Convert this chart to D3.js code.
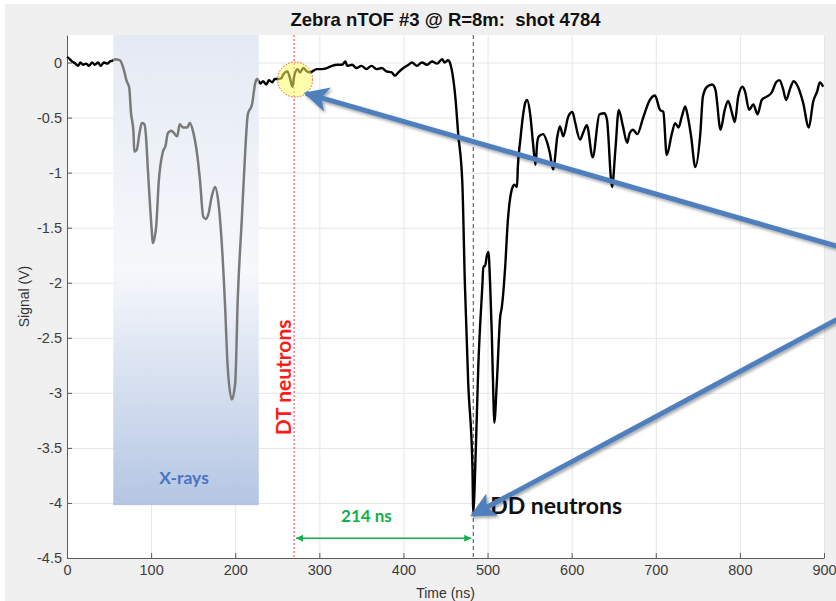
<!DOCTYPE html>
<html>
<head>
<meta charset="utf-8">
<script src="https://cdn.jsdelivr.net/npm/d3@7"></script>
<style>
  html, body { margin: 0; padding: 0; background: #fff; }
  svg { display: block; }
</style>
</head>
<body>
<div id="chart"></div>
<script>
// --- DATA ---
const timeNs = [
  0, 2, 6, 10, 13, 16, 19, 23, 26, 30, 33, 37, 40, 44, 48, 51, 55, 57, 63, 67, 71, 74, 76, 79, 80,
  83, 86, 89, 92, 94, 96, 101, 102, 106, 109, 114, 117, 120, 124, 126, 131, 134, 138, 143, 146, 150,
  155, 158, 162, 165, 168, 172, 176, 180, 184, 188, 191, 196, 200, 203, 208, 212, 215, 220, 224, 226,
  230, 233, 237, 240, 244, 247, 251, 255, 257, 262, 265, 268, 270, 274, 277, 281, 285, 289,
  297, 303, 309, 315, 321, 327, 331, 333, 339, 344, 350, 356, 362, 368, 374, 380, 386, 390, 394,
  400, 406, 410, 416, 422, 428, 434, 440, 446, 449, 453, 456,
  462, 465, 470, 473, 477, 482, 483, 486, 489, 494, 495, 497, 499, 501, 503, 505, 507, 508,
  511, 515, 517, 521, 524, 529, 532, 535, 536, 539, 542, 545, 547, 551, 554, 557, 559, 561,
  566, 571, 574, 578, 583, 586, 590, 596, 601, 604, 610, 614, 618, 625, 633, 639, 642, 648,
  652, 656, 661, 666, 669, 673, 678, 685, 693, 699, 705, 709, 713, 719, 723, 727, 731, 735,
  737, 742, 747, 753, 756, 761, 767, 771, 777, 782, 786, 791, 794, 798, 803, 806, 811, 816,
  821, 826, 832, 838, 843, 847, 851, 855, 860, 864, 869, 875, 882, 887, 892, 895, 899
];
const signalV = [
  0.05, 0.04, 0.01, -0.01, -0.03, 0.00, -0.02, -0.01, -0.03, 0.00, -0.02, 0.00, -0.03, 0.00, -0.01, 0.01, 0.02, 0.03, 0.02, -0.05, -0.17, -0.23, -0.45, -0.63, -0.81,
  -0.79, -0.65, -0.55, -0.56, -0.68, -0.95, -1.55, -1.64, -1.49, -1.09, -0.81, -0.76, -0.64, -0.62, -0.63, -0.67, -0.56, -0.59, -0.59, -0.55, -0.63,
  -0.85, -1.06, -1.40, -1.42, -1.38, -1.22, -1.13, -1.27, -1.64, -2.22, -2.76, -3.06, -2.91, -2.15, -1.40, -0.79, -0.47, -0.38, -0.18, -0.15,
  -0.19, -0.17, -0.20, -0.16, -0.18, -0.15, -0.15, -0.14, -0.11, -0.08, -0.14, -0.22, -0.13, -0.06, -0.09, -0.05, -0.08, -0.09,
  -0.06, -0.06, -0.05, -0.03, -0.02, -0.02, 0.01, -0.03, -0.02, -0.05, -0.03, -0.06, -0.03, -0.06, -0.05, -0.08, -0.09, -0.12, -0.09,
  -0.05, -0.02, 0.00, -0.03, 0.00, -0.02, 0.01, -0.01, 0.03, 0.00, 0.02, -0.02,
  -0.34, -0.64, -1.09, -2.00, -2.91, -3.67, -4.08, -3.52, -2.76, -2.00, -1.85, -1.85, -1.76, -1.72, -2.00, -2.45, -3.06, -3.27,
  -2.91, -2.31, -2.22, -1.85, -1.45, -1.15, -1.11, -1.13, -0.95, -0.70, -0.49, -0.36, -0.34, -0.49, -0.73, -0.93, -0.73, -0.67,
  -0.65, -0.73, -0.82, -0.97, -0.67, -0.58, -0.67, -0.49, -0.45, -0.54, -0.70, -0.63, -0.57, -0.86, -0.47, -0.46, -0.52, -1.13,
  -0.79, -0.43, -0.58, -0.73, -0.64, -0.61, -0.65, -0.50, -0.34, -0.30, -0.43, -0.45, -0.84, -0.65, -0.55, -0.59, -0.49, -0.40,
  -0.45, -0.67, -0.95, -0.64, -0.31, -0.22, -0.20, -0.25, -0.61, -0.43, -0.35, -0.47, -0.54, -0.31, -0.22, -0.26, -0.43, -0.38,
  -0.47, -0.34, -0.31, -0.27, -0.18, -0.16, -0.23, -0.34, -0.23, -0.17, -0.22, -0.36, -0.59, -0.36, -0.26, -0.18, -0.22
];

const xTicks = [0, 100, 200, 300, 400, 500, 600, 700, 800, 900];
const yTicks = [0, -0.5, -1, -1.5, -2, -2.5, -3, -3.5, -4, -4.5];

// annotations (data units)
const xrayBand = [55, 228, -4.02];      // start ns, end ns, bottom V
const dtTime = 270;
const ddTime = 483;
const gapLabel = "214 ns";
const gapLevel = -4.32;
const circleAt = [270, -0.155];
const arrowOrigin = [1021, -1.90];
const arrowTips = [[284, -0.28], [482, -4.11]];

// --- LAYOUT ---
const WIDTH = 836, HEIGHT = 601;
const PLOT = { left: 67, right: 824, top: 35, bottom: 558 };
const FONT = "'Liberation Sans', Arial, Helvetica, sans-serif";
const CALIBRI = "Lato, 'Open Sans', sans-serif";

const data = timeNs.map((t, i) => ({ t, v: signalV[i] }));

const x = d3.scaleLinear().domain([0, 900]).range([PLOT.left, PLOT.right]);
const y = d3.scaleLinear().domain([-4.5, 0.25]).range([PLOT.bottom, PLOT.top]);

const svg = d3.select("#chart").append("svg")
  .attr("width", WIDTH).attr("height", HEIGHT)
  .style("font-family", FONT);

const defs = svg.append("defs");

const grad = defs.append("linearGradient").attr("id", "xrayGrad")
  .attr("x1", 0).attr("y1", 0).attr("x2", 0).attr("y2", 1);
grad.append("stop").attr("offset", "0%").attr("stop-color", "#e2e8f3");
grad.append("stop").attr("offset", "50%").attr("stop-color", "#f5f7fb");
grad.append("stop").attr("offset", "100%").attr("stop-color", "#aec1e1");

// line is grey inside the X-ray band, black elsewhere
defs.append("clipPath").attr("id", "clipIn").append("rect")
  .attr("x", x(xrayBand[0])).attr("y", 0)
  .attr("width", x(xrayBand[1]) - x(xrayBand[0])).attr("height", HEIGHT);
const clipOut = defs.append("clipPath").attr("id", "clipOut");
clipOut.append("rect").attr("x", 0).attr("y", 0).attr("width", x(xrayBand[0])).attr("height", HEIGHT);
clipOut.append("rect").attr("x", x(xrayBand[1])).attr("y", 0)
  .attr("width", WIDTH - x(xrayBand[1])).attr("height", HEIGHT);

const shadow = defs.append("filter").attr("id", "shadow")
  .attr("x", "-20%").attr("y", "-20%").attr("width", "140%").attr("height", "140%");
shadow.append("feDropShadow").attr("dx", 1.5).attr("dy", 2).attr("stdDeviation", 1.5)
  .attr("flood-color", "#000").attr("flood-opacity", 0.35);

defs.append("marker").attr("id", "blueHead")
  .attr("viewBox", "0 0 10 10").attr("refX", 9).attr("refY", 5)
  .attr("markerWidth", 5).attr("markerHeight", 5)
  .attr("markerUnits", "strokeWidth").attr("orient", "auto")
  .append("path").attr("d", "M0,0 L10,5 L0,10 L2.5,5 Z").attr("fill", "#4f80bd");

defs.append("marker").attr("id", "greenHead")
  .attr("viewBox", "0 0 10 10").attr("refX", 10).attr("refY", 5)
  .attr("markerWidth", 9).attr("markerHeight", 7)
  .attr("markerUnits", "userSpaceOnUse").attr("orient", "auto-start-reverse")
  .append("path").attr("d", "M0,0 L10,5 L0,10 Z").attr("fill", "#10b04a");

// figure background
svg.append("rect").attr("x", 5).attr("y", 4).attr("width", WIDTH - 5).attr("height", HEIGHT - 4)
  .attr("fill", "#f0f0f0");
svg.append("rect").attr("x", PLOT.left).attr("y", PLOT.top)
  .attr("width", PLOT.right - PLOT.left).attr("height", PLOT.bottom - PLOT.top)
  .attr("fill", "#fff");

// grid
const grid = svg.append("g").attr("stroke", "#e6e6e6").attr("stroke-width", 1);
grid.selectAll(".gx").data(xTicks.slice(1)).join("line")
  .attr("x1", d => x(d) + 0.5).attr("x2", d => x(d) + 0.5)
  .attr("y1", PLOT.top).attr("y2", PLOT.bottom);
grid.selectAll(".gy").data(yTicks.slice(0, -1)).join("line")
  .attr("y1", d => y(d) + 0.5).attr("y2", d => y(d) + 0.5)
  .attr("x1", PLOT.left).attr("x2", PLOT.right);

// X-ray band
svg.append("rect")
  .attr("x", x(xrayBand[0])).attr("y", PLOT.top)
  .attr("width", x(xrayBand[1]) - x(xrayBand[0]))
  .attr("height", y(xrayBand[2]) - PLOT.top)
  .attr("fill", "url(#xrayGrad)").attr("fill-opacity", 0.92);

// axes
const xAxis = d3.axisBottom(x).tickValues(xTicks).tickSizeInner(-5).tickSizeOuter(0).tickPadding(7)
  .tickFormat(d3.format("d"));
const yAxis = d3.axisLeft(y).tickValues(yTicks).tickSizeInner(-5).tickSizeOuter(0).tickPadding(5)
  .tickFormat(d => String(d));

const gx = svg.append("g").attr("transform", `translate(0,${PLOT.bottom})`).call(xAxis);
const gy = svg.append("g").attr("transform", `translate(${PLOT.left},0)`).call(yAxis);
[gx, gy].forEach(g => {
  g.select(".domain").attr("stroke", "#5a5a5a").attr("stroke-width", 1);
  g.selectAll(".tick line").attr("stroke", "#5a5a5a");
  g.selectAll(".tick text").attr("fill", "#3c3c3c").attr("font-size", 14.5).attr("font-family", FONT);
});

// reference lines
svg.append("line")
  .attr("x1", x(dtTime)).attr("x2", x(dtTime)).attr("y1", PLOT.top).attr("y2", PLOT.bottom)
  .attr("stroke", "#ff3b3b").attr("stroke-width", 1).attr("stroke-dasharray", "2,2");
svg.append("line")
  .attr("x1", x(ddTime)).attr("x2", x(ddTime)).attr("y1", PLOT.top).attr("y2", PLOT.bottom)
  .attr("stroke", "#444").attr("stroke-width", 1).attr("stroke-dasharray", "4,3");

// signal trace
const line = d3.line().x(d => x(d.t)).y(d => y(d.v)).curve(d3.curveMonotoneX);
svg.append("path").datum(data).attr("d", line)
  .attr("fill", "none").attr("stroke", "#000").attr("stroke-width", 2.4)
  .attr("stroke-linejoin", "round").attr("clip-path", "url(#clipOut)");
svg.append("path").datum(data).attr("d", line)
  .attr("fill", "none").attr("stroke", "#7a7a7a").attr("stroke-width", 2.5)
  .attr("stroke-linejoin", "round").attr("clip-path", "url(#clipIn)");

// highlight circle
svg.append("circle")
  .attr("cx", x(circleAt[0]) + 1).attr("cy", y(circleAt[1]))
  .attr("r", 17.5)
  .attr("fill", "#ffff66").attr("fill-opacity", 0.55)
  .attr("stroke", "#ff4444").attr("stroke-width", 1).attr("stroke-dasharray", "1.5,1.5");

// texts
svg.append("text")
  .attr("x", (PLOT.left + PLOT.right) / 2).attr("y", 26)
  .attr("text-anchor", "middle").attr("font-size", 18.5).attr("font-weight", "bold")
  .attr("fill", "#111")
  .text("Zebra nTOF #3 @ R=8m:\u00a0\u00a0shot 4784");

svg.append("text")
  .attr("x", (PLOT.left + PLOT.right) / 2).attr("y", 598)
  .attr("text-anchor", "middle").attr("font-size", 14).attr("fill", "#333")
  .text("Time (ns)");

svg.append("text")
  .attr("transform", `translate(29,${(PLOT.top + PLOT.bottom) / 2}) rotate(-90)`)
  .attr("text-anchor", "middle").attr("font-size", 14).attr("fill", "#333")
  .text("Signal (V)");

svg.append("text")
  .attr("x", (x(xrayBand[0]) + x(xrayBand[1])) / 2 - 2).attr("y", y(-3.83))
  .attr("text-anchor", "middle").attr("font-family", CALIBRI)
  .attr("font-size", 17.5).attr("font-weight", "bold").attr("fill", "#4a74c0")
  .text("X-rays");

svg.append("text")
  .attr("transform", `translate(${x(dtTime) - 3},${y(-2.86)}) rotate(-90)`)
  .attr("text-anchor", "middle").attr("font-family", CALIBRI)
  .attr("font-size", 21).attr("font-weight", "bold").attr("fill", "#ff1a1a")
  .text("DT neutrons");

// 214 ns gap arrow
svg.append("line")
  .attr("x1", x(dtTime) + 2).attr("x2", x(ddTime) - 2)
  .attr("y1", y(gapLevel)).attr("y2", y(gapLevel))
  .attr("stroke", "#10b04a").attr("stroke-width", 1.5)
  .attr("marker-start", "url(#greenHead)").attr("marker-end", "url(#greenHead)");
svg.append("text")
  .attr("x", x(356)).attr("y", y(-4.17))
  .attr("text-anchor", "middle").attr("font-family", CALIBRI)
  .attr("font-size", 17).attr("font-weight", "bold").attr("fill", "#10b04a")
  .text(gapLabel);

svg.append("text")
  .attr("x", x(ddTime) + 17).attr("y", y(-4.1))
  .attr("font-family", CALIBRI)
  .attr("font-size", 23).attr("font-weight", "bold").attr("fill", "#111")
  .text("DD neutrons");

// blue callout arrows
svg.append("g").attr("filter", "url(#shadow)")
  .selectAll("line").data(arrowTips).join("line")
  .attr("x1", x(arrowOrigin[0])).attr("y1", y(arrowOrigin[1]))
  .attr("x2", d => x(d[0])).attr("y2", d => y(d[1]))
  .attr("stroke", "#4f80bd").attr("stroke-width", 5)
  .attr("marker-end", "url(#blueHead)");
</script>
</body>
</html>
